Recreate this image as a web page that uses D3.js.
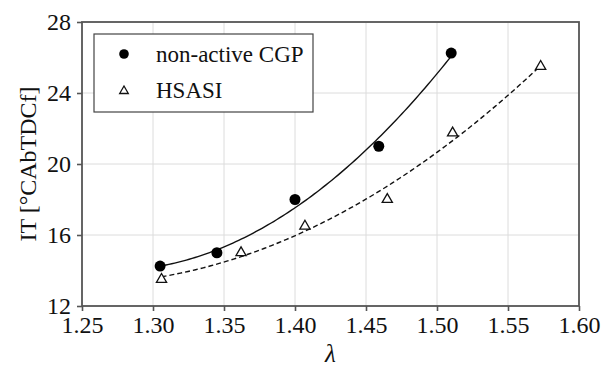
<!DOCTYPE html>
<html>
<head>
<meta charset="utf-8">
<script src="https://cdn.jsdelivr.net/npm/d3@7"></script>
<style>
  html, body { margin: 0; padding: 0; background: #fff; }
  svg { display: block; }
</style>
</head>
<body>
<svg id="chart" width="611" height="367"></svg>
<script>
// Measured points: ignition temperature vs. excess-air ratio
const cgpLambda = [1.305, 1.345, 1.400, 1.459, 1.510];
const cgpIT     = [14.25, 15.0, 18.0, 21.0, 26.25];
const hsasiLambda = [1.306, 1.362, 1.407, 1.465, 1.511, 1.573];
const hsasiIT     = [13.5, 15.0, 16.5, 18.0, 21.75, 25.5];

const xTicks = [1.25, 1.30, 1.35, 1.40, 1.45, 1.50, 1.55, 1.60];
const yTicks = [12, 16, 20, 24, 28];
const seriesNames = ["non-active CGP", "HSASI"];

const SERIF = "Liberation Serif";

const svg = d3.select("#chart");
const m = { left: 82, right: 579, top: 22, bottom: 306 };

const x = d3.scaleLinear().domain([1.25, 1.60]).range([m.left, m.right]);
const y = d3.scaleLinear().domain([12, 28]).range([m.bottom, m.top]);

// Least-squares quadratic trend line through a series
function quadFit(xs, ys) {
  const n = xs.length;
  let S = [0, 0, 0, 0, 0], T = [0, 0, 0];
  for (let i = 0; i < n; i++) {
    const xi = xs[i];
    for (let k = 0; k < 5; k++) S[k] += Math.pow(xi, k);
    for (let k = 0; k < 3; k++) T[k] += ys[i] * Math.pow(xi, k);
  }
  const A = [[S[0], S[1], S[2], T[0]], [S[1], S[2], S[3], T[1]], [S[2], S[3], S[4], T[2]]];
  for (let c = 0; c < 3; c++) {
    for (let r = c + 1; r < 3; r++) {
      const f = A[r][c] / A[c][c];
      for (let k = c; k < 4; k++) A[r][k] -= f * A[c][k];
    }
  }
  const b = [0, 0, 0];
  for (let r = 2; r >= 0; r--) {
    let s = A[r][3];
    for (let k = r + 1; k < 3; k++) s -= A[r][k] * b[k];
    b[r] = s / A[r][r];
  }
  return v => b[0] + b[1] * v + b[2] * v * v;
}

// Grid
const grid = svg.append("g");
grid.selectAll("line.vx").data(xTicks.slice(1, -1)).enter().append("line")
  .attr("x1", d => x(d)).attr("x2", d => x(d))
  .attr("y1", m.top).attr("y2", m.bottom)
  .attr("stroke", "#dcdcdc").attr("stroke-width", 1);
grid.selectAll("line.hy").data(yTicks.slice(1, -1)).enter().append("line")
  .attr("x1", m.left).attr("x2", m.right)
  .attr("y1", d => y(d)).attr("y2", d => y(d))
  .attr("stroke", "#dcdcdc").attr("stroke-width", 1);

// Trend curves
function curve(xs, ys, dash) {
  const f = quadFit(xs, ys);
  const lo = d3.min(xs), hi = d3.max(xs);
  const pts = d3.range(0, 101).map(i => lo + (hi - lo) * i / 100);
  svg.append("path")
    .attr("d", d3.line().x(d => x(d)).y(d => y(f(d)))(pts))
    .attr("fill", "none").attr("stroke", "#111").attr("stroke-width", 1.4)
    .attr("stroke-dasharray", dash);
}
curve(cgpLambda, cgpIT, null);
curve(hsasiLambda, hsasiIT, "5,3");

// Markers
const tri = d3.symbol().type(d3.symbolTriangle);
svg.append("g").selectAll("circle").data(cgpLambda).enter().append("circle")
  .attr("cx", d => x(d)).attr("cy", (d, i) => y(cgpIT[i]))
  .attr("r", 5.5).attr("fill", "#000");
svg.append("g").selectAll("path").data(hsasiLambda).enter().append("path")
  .attr("d", tri.size(45)())
  .attr("transform", (d, i) => `translate(${x(d)},${y(hsasiIT[i])})`)
  .attr("fill", "#fff").attr("stroke", "#111").attr("stroke-width", 1.3);

// Frame
svg.append("rect")
  .attr("x", m.left).attr("y", m.top)
  .attr("width", m.right - m.left).attr("height", m.bottom - m.top)
  .attr("fill", "none").attr("stroke", "#555").attr("stroke-width", 1.8);

// Axes
const xAxis = d3.axisBottom(x).tickValues(xTicks).tickFormat(d3.format(".2f")).tickSize(5).tickPadding(5);
const yAxis = d3.axisLeft(y).tickValues(yTicks).tickFormat(d3.format("d")).tickSize(5).tickPadding(6);
const gx = svg.append("g").attr("transform", `translate(0,${m.bottom})`).call(xAxis);
const gy = svg.append("g").attr("transform", `translate(${m.left},0)`).call(yAxis);
[gx, gy].forEach(g => {
  g.attr("font-family", SERIF).attr("font-size", 24);
  g.select(".domain").remove();
  g.selectAll(".tick line").attr("stroke", "#555").attr("stroke-width", 1.6);
  g.selectAll(".tick text").attr("fill", "#111");
});

// Axis titles
svg.append("text")
  .attr("x", (m.left + m.right) / 2).attr("y", 362)
  .attr("text-anchor", "middle").attr("font-family", SERIF)
  .attr("font-size", 25).attr("font-style", "italic").attr("fill", "#111")
  .text("λ");
svg.append("text")
  .attr("transform", `translate(36,${(m.top + m.bottom) / 2}) rotate(-90)`)
  .attr("text-anchor", "middle").attr("font-family", SERIF).attr("font-size", 24)
  .attr("fill", "#111")
  .text("IT [°CAbTDCf]");

// Legend
const lg = svg.append("g");
lg.append("rect").attr("x", 94).attr("y", 34).attr("width", 219).attr("height", 78)
  .attr("fill", "#fff").attr("stroke", "#444").attr("stroke-width", 1.2);
lg.append("circle").attr("cx", 124).attr("cy", 54).attr("r", 4.8).attr("fill", "#000");
lg.append("path").attr("d", tri.size(32)()).attr("transform", "translate(124,91)")
  .attr("fill", "#fff").attr("stroke", "#111").attr("stroke-width", 1.3);
lg.selectAll("text").data(seriesNames).enter().append("text")
  .attr("x", 156).attr("y", (d, i) => 62 + i * 36)
  .attr("font-family", SERIF).attr("font-size", 23).attr("fill", "#111")
  .text(d => d);
</script>
</body>
</html>
